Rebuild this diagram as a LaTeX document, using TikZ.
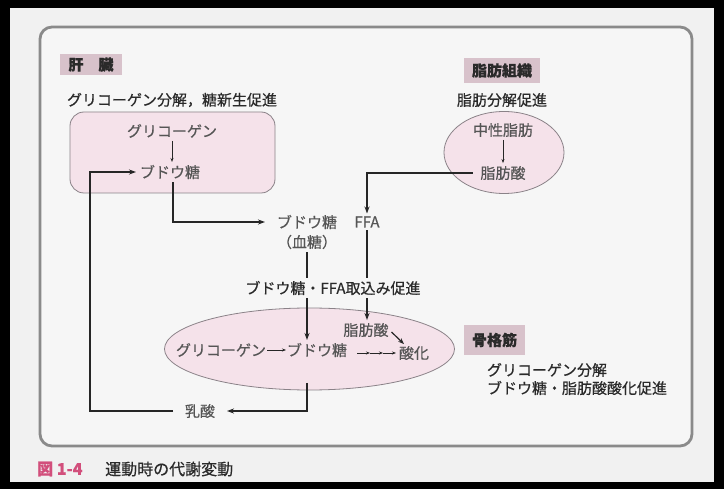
\documentclass[tikz,border=0pt]{standalone}
\usepackage{fontspec}
\newfontfamily\jp[FakeBold=0.5]{Noto Sans CJK JP}
\usetikzlibrary{arrows.meta,shapes.geometric}
\definecolor{outerbg}{HTML}{F1F1F1}
\definecolor{panelbg}{HTML}{F6F6F6}
\definecolor{panelline}{HTML}{8A8A8A}
\definecolor{pinkfill}{HTML}{F5E2EA}
\definecolor{pinkline}{HTML}{8A8288}
\definecolor{labelfill}{HTML}{D8C2CB}
\definecolor{txtdark}{HTML}{2A2A2A}
\definecolor{txtgrey}{HTML}{555555}
\definecolor{capred}{HTML}{D24F7C}
\definecolor{linecol}{HTML}{262626}
\begin{document}
\begin{tikzpicture}[x=1pt,y=-1pt,
  txt/.style={font=\jp\fontsize{15}{18}\selectfont, text=txtgrey, inner sep=0pt, outer sep=3pt},
  head/.style={txt, text=txtdark},
  lab/.style={head, fill=labelfill, font=\jp\bfseries\fontsize{15}{18}\selectfont},
  pinkshape/.style={draw=pinkline, fill=pinkfill, line width=0.8pt},
  ln/.style={draw=linecol, line width=1.2pt},
  arr/.style={ln, -{Stealth[length=7pt,width=5pt]}},
  sarr/.style={draw=linecol, line width=0.8pt, -{Stealth[length=4pt,width=3pt]}},
  captext/.style={font=\jp\fontsize{16}{19}\selectfont, inner sep=0pt, anchor=west}
]
\useasboundingbox (0,0) rectangle (724,489);
\fill[black] (0,0) rectangle (724,489);
\fill[outerbg] (10,8) rectangle (714,482);
\draw[panelline, line width=2.8pt, fill=panelbg, rounded corners=12] (40,27) rectangle (692,446);

% liver
\node[lab, minimum width=62, minimum height=21] (liverlab) at (91,64.5) {肝　臓};
\node[head, anchor=west] (liverdesc) at (64,100) {グリコーゲン分解，糖新生促進};
\node[pinkshape, rounded corners=14, minimum width=205, minimum height=81] (liverbox) at (172.5,152.5) {};
\node[txt] (lgly) at (172,131) {グリコーゲン};
\node[txt] (lglu) at (170,172) {ブドウ糖};
\draw[sarr] (lgly.south) -- (lglu.north -| lgly.south);

% adipose
\node[lab, minimum width=76, minimum height=25] (fatlab) at (502,70.5) {脂肪組織};
\node[head] (fatdesc) at (502,100) {脂肪分解促進};
\node[pinkshape, ellipse, minimum width=120, minimum height=82] (fatell) at (504,152.5) {};
\node[txt] (tg) at (503,130) {中性脂肪};
\node[txt] (fatacid) at (503,173) {脂肪酸};
\draw[sarr] (tg.south) -- (fatacid.north -| tg.south);

% blood
\node[txt] (bglu) at (307,222) {ブドウ糖};
\node[txt] (ffa) at (367,222) {FFA};
\node[txt] (kettou) at (307,242) {（血糖）};
\node[head] (uptake) at (333,288) {ブドウ糖・FFA取込み促進};

% muscle
\node[pinkshape, ellipse, minimum width=290, minimum height=82] (muscle) at (309.5,349) {};
\node[txt] (mgly) at (221,350) {グリコーゲン};
\node[txt] (mglu) at (317,350) {ブドウ糖};
\node[txt] (mfa) at (366,330) {脂肪酸};
\node[txt] (oxid) at (414,353) {酸化};
\node[txt] (lac) at (200,411) {乳酸};
\node[lab, minimum width=61, minimum height=30] (muslab) at (494.5,340) {骨格筋};
\node[head, anchor=west] (musd1) at (484,370) {グリコーゲン分解};
\node[head, anchor=west] (musd2) at (484,388) {ブドウ糖・脂肪酸酸化促進};

% coordinates
\coordinate (xg) at (307,0);
\coordinate (mdown) at (307,383);
\coordinate (loopbot) at (90,411);
\coordinate (looptop) at (90,172);
\coordinate (d0) at (357,353);
\coordinate (d1) at (370,353);
\coordinate (d2) at (383,353);

% connectors
\draw[arr] ([xshift=3pt]lglu.south) |- ([xshift=-9pt]bglu.west);
\draw[arr] ([xshift=-5pt]fatacid.west) -| (ffa.north);
\draw[ln] (kettou.south) -- (kettou.south |- uptake.north);
\draw[ln] (ffa.south) -- (ffa.south |- uptake.north);
\draw[arr] (uptake.south -| xg) -- (mglu.north -| xg);
\draw[arr] (uptake.south -| ffa.south) -- (mfa.north -| ffa.south);
\draw[sarr] ([xshift=-2pt]mgly.east) -- ([xshift=2pt]mglu.west);
\draw[sarr] (d0) -- (d1);
\draw[sarr] (d1) -- (d2);
\draw[sarr] (d2) -- (oxid.west);
\draw[ln, -{Stealth[length=6pt,width=4.5pt]}] ([yshift=-2pt]mfa.east) -- ([xshift=8pt,yshift=-1pt]oxid.north west);
\draw[arr] (mdown) |- ([xshift=9pt]lac.east);
\draw[arr] ([xshift=-9pt]lac.west) -- (loopbot) -- (looptop) -- ([xshift=-1pt]lglu.west);

% caption
\node[captext, text=capred, font=\jp\bfseries\fontsize{16}{19}\selectfont] (capnum) at (37,469) {図 1-4};
\node[captext, text=txtdark] (captxt) at (105,469) {運動時の代謝変動};
\end{tikzpicture}
\end{document}
